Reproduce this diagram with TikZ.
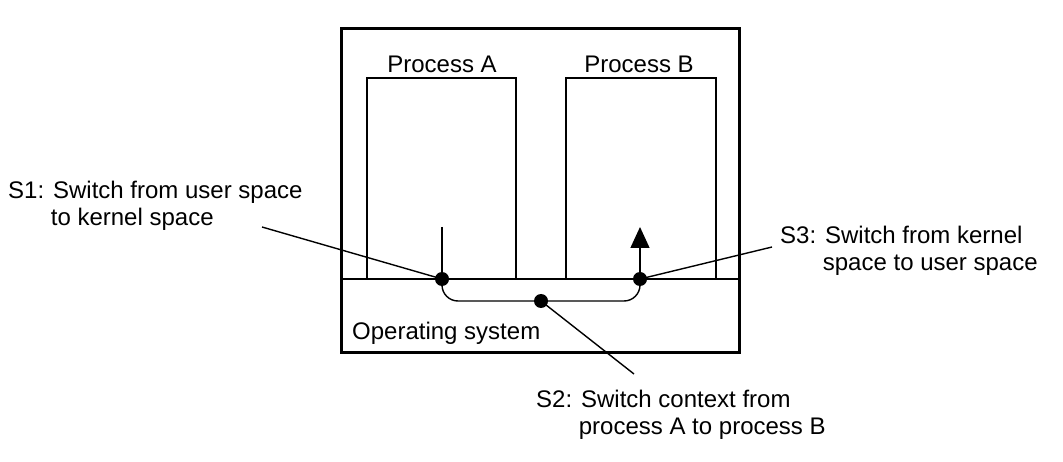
\documentclass[tikz,border=0pt]{standalone}
\usepackage{fontspec}
\setmainfont{Liberation Sans}
\usetikzlibrary{arrows.meta}
\begin{document}
\begin{tikzpicture}[x=1pt,y=-1pt,
  thinline/.style={line width=1.4pt},
  frame/.style={line width=3pt},
  dot/.style={circle,fill=black,inner sep=0pt,minimum size=14pt},
  lbl/.style={anchor=base west,align=left,inner sep=0pt,font=\fontsize{24}{27}\selectfont},
  title/.style={anchor=base,inner sep=0pt,font=\fontsize{24}{27}\selectfont},
]
\useasboundingbox (0,0) rectangle (1063,462);
% outer frame and divider
\draw[frame] (341,29) rectangle (739,352);
\draw[thinline] (341,279) -- (739,279);
% process boxes
\draw[thinline] (367,279) |- (516,78) -- (516,279);
\draw[thinline] (566,279) |- (716,78) -- (716,279);
\node[title] (pa) at (442,73) {Process A};
\node[title] (pb) at (639,73) {Process B};
\node[lbl] (os) at (352,340) {Operating system};
% switch points
\coordinate (d1p) at (442,279);
\coordinate (d2p) at (541,301);
\coordinate (d3p) at (640,279);
\coordinate (atop) at (442,227);
\coordinate (btop) at (640,227);
\draw[thinline] (atop) -- (d1p);
\draw[thinline,rounded corners=16pt] (d1p) -- (442,301) -- (640,301) -- (d3p);
\draw[thinline,-{Triangle[length=21pt,width=19pt]}] (d3p) -- (btop);
% labels (base = baseline of last line)
\node[lbl] (s1) at (8,226) {S1: Switch from user space\\\hphantom{S1:}\ to kernel space};
\node[lbl] (s3) at (780,271) {S3: Switch from kernel\\\hphantom{S3:}\ space to user space};
\node[lbl] (s2) at (536,434) {S2: Switch context from\\\hphantom{S2:}\ process A to process B};
\coordinate (e1) at (262,227);
\coordinate (e3) at (772,247);
\coordinate (e2) at (634,374);
\draw[thinline] (d1p) -- (e1);
\draw[thinline] (d3p) -- (e3);
\draw[thinline] (d2p) -- (e2);
\node[dot] (d1) at (d1p) {};
\node[dot] (d2) at (d2p) {};
\node[dot] (d3) at (d3p) {};
\end{tikzpicture}
\end{document}
